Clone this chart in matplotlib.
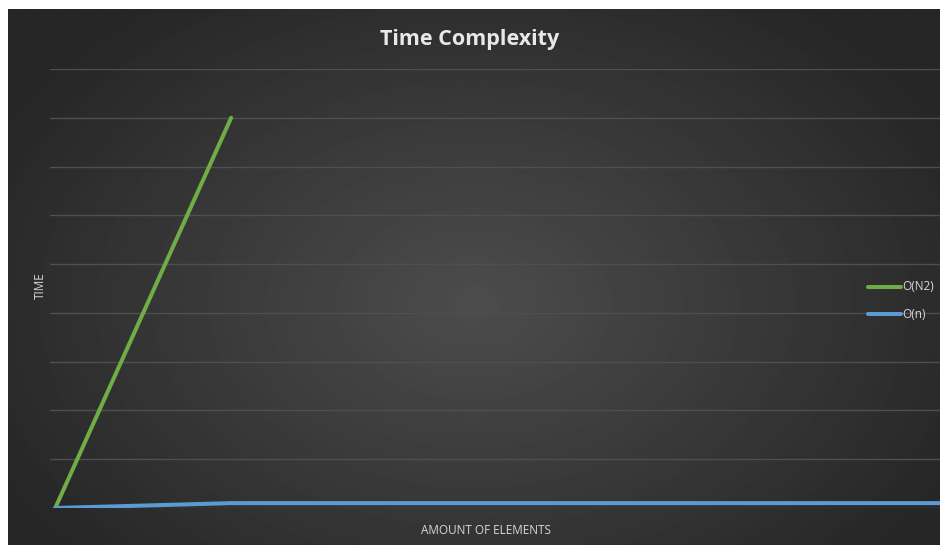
import matplotlib.pyplot as plt
import numpy as np

# data
elements = [0, 1, 2, 3, 4, 5, 6]
quadratic = [0, 8]
linear = [0, 0.1, 0.1, 0.1, 0.1, 0.1, 0.1]
series_names = ['O(N2)', 'O(n)']

W, H = 940, 545
fig = plt.figure(figsize=(W / 100, H / 100), dpi=100)
fig.patch.set_facecolor('#2a2a2a')

# dark radial gradient background
bg = fig.add_axes([0, 0, 1, 1])
yy, xx = np.mgrid[0:1:300j, 0:1:500j]
r = np.sqrt(((xx - 0.5) / 0.62) ** 2 + ((yy - 0.55) / 0.75) ** 2)
shade = np.clip(0.30 - 0.16 * r, 0.15, 0.30)
bg.imshow(shade, cmap='gray', vmin=0, vmax=1, aspect='auto',
          extent=[8 / W, 1, 0, 1 - 9 / H])
# white margins at left and top
bg.add_patch(plt.Rectangle((0, 0), 8 / W, 1, color='white', lw=0))
bg.add_patch(plt.Rectangle((0, 1 - 9 / H), 1, 9 / H, color='white', lw=0))
bg.set_xlim(0, 1)
bg.set_ylim(0, 1)
bg.set_axis_off()

# plot area
left, right = 50, 940
bottom, top = 508, 69
ax = fig.add_axes([left / W, (H - bottom) / H, (right - left) / W, (bottom - top) / H])
ax.patch.set_alpha(0)
ax.set_xlim(-0.03, 5.03)
ax.set_ylim(0, 9)
ax.set_yticks(range(0, 10))
ax.grid(axis='y', color='#4f4f4f', linewidth=1)
ax.set_axisbelow(True)
ax.tick_params(left=False, bottom=False, labelleft=False, labelbottom=False)
for s in ax.spines.values():
    s.set_visible(False)

ax.plot(elements[:len(quadratic)], quadratic, color='#70ad47', linewidth=2.9,
        solid_capstyle='round')
ax.plot(elements, linear, color='#5b9bd5', linewidth=2.9, solid_capstyle='round')

font = 'Open Sans'
fig.text(0.5, 1 - 40 / H, 'Time Complexity', ha='center', va='center',
         fontsize=15.5, fontweight='bold', color='#e8e8e8', family=font)
fig.text(486 / W, 1 - 530 / H, 'AMOUNT OF ELEMENTS', ha='center', va='center',
         fontsize=8.5, color='#d9d9d9', family=font)
fig.text(40 / W, 1 - 286 / H, 'TIME', ha='center', va='center', rotation=90,
         fontsize=8.5, color='#d9d9d9', family=font)

# legend
colors = ['#70ad47', '#5b9bd5']
for i, name in enumerate(series_names):
    y = 1 - (287 + 27 * i) / H
    fig.add_artist(plt.Line2D([868 / W, 901 / W], [y, y], color=colors[i],
                              linewidth=2.9, solid_capstyle='round'))
    fig.text(902 / W, y, name, ha='left', va='center', fontsize=8.5,
             color='#d9d9d9', family=font)

fig.savefig('out.png', dpi=100, facecolor=fig.get_facecolor())
